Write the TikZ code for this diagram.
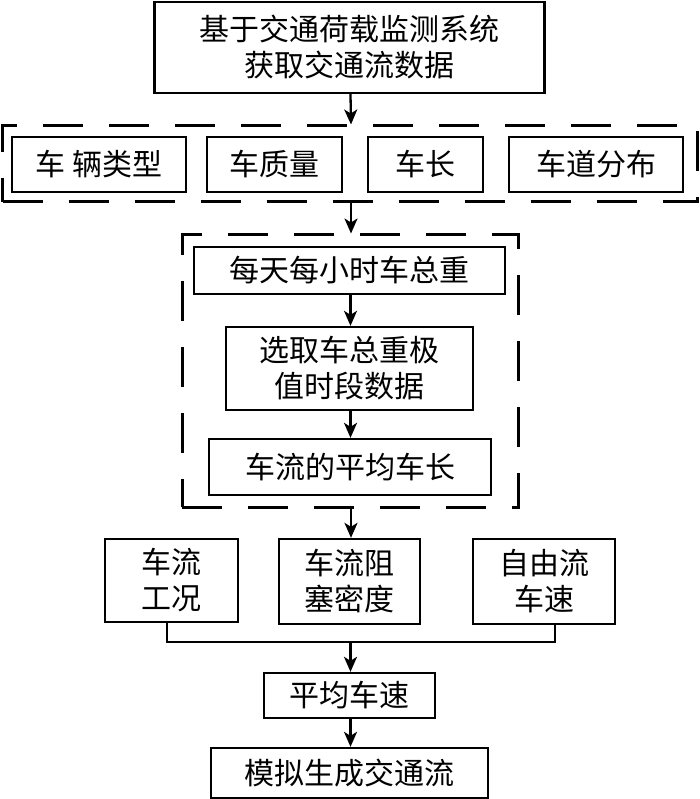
\documentclass[tikz,border=0pt]{standalone}
\usepackage{fontspec}
\newfontfamily\cjk{Noto Sans CJK SC}
\usetikzlibrary{arrows.meta}
\begin{document}
\begin{tikzpicture}[x=1pt,y=-1pt,
  box/.style={draw, line width=2.3pt, rectangle, inner sep=0pt, align=center,
    font=\cjk\fontsize{30pt}{36pt}\selectfont, text=black},
  dbox/.style={draw, line width=3pt, rectangle, inner sep=0pt, dash pattern=on 40pt off 26pt},
  arr/.style={line width=2.3pt, -{Stealth[length=15pt,width=13pt,inset=4pt]}},
  ln/.style={line width=2.3pt}]
\useasboundingbox (0,0) rectangle (700,799);
\fill[white] (0,0) rectangle (700,799);
% top
\node[box, minimum width=390pt, minimum height=91pt] (top) at (349.5,47.5) {基于交通荷载监测系统\\获取交通流数据};
% dashed group 1
\node[dbox, minimum width=695pt, minimum height=76pt] (g1) at (350,164) {};
\node[box, minimum width=174pt, minimum height=55pt] (a1) at (99,164.5) {车 辆类型};
\node[box, minimum width=135pt, minimum height=55pt] (a2) at (274.5,164.5) {车质量};
\node[box, minimum width=115pt, minimum height=55pt] (a3) at (425.5,164.5) {车长};
\node[box, minimum width=174pt, minimum height=55pt] (a4) at (596,164.5) {车道分布};
% dashed group 2
\node[dbox, minimum width=336pt, minimum height=272pt] (g2) at (350,371) {};
\node[box, minimum width=311pt, minimum height=47pt] (b1) at (349.5,270.5) {每天每小时车总重};
\node[box, minimum width=247pt, minimum height=83pt] (b2) at (349.5,368.5) {选取车总重极\\值时段数据};
\node[box, minimum width=282pt, minimum height=56pt] (b3) at (350,467) {车流的平均车长};
% row of three
\node[box, minimum width=133pt, minimum height=83pt] (c1) at (171.5,580.5) {车流\\工况};
\node[box, minimum width=141pt, minimum height=85pt] (c2) at (349.5,581.5) {车流阻\\塞密度};
\node[box, minimum width=142pt, minimum height=85pt] (c3) at (544,581.5) {自由流\\车速};
\node[box, minimum width=171pt, minimum height=45pt] (d) at (349.5,695.5) {平均车速};
\node[box, minimum width=277pt, minimum height=50pt] (e) at (349.5,773) {模拟生成交通流};
\coordinate (j) at (350.5,642);
% connectors
\draw[arr] ([xshift=1pt]top.south) -- ([xshift=1pt]g1.north);
\draw[arr] ([xshift=1pt]g1.south) -- ([xshift=1pt]g2.north);
\draw[arr] ([xshift=1pt]b1.south) -- ([xshift=1pt]b2.north);
\draw[arr] ([xshift=1pt]b2.south) -- ([xshift=0.5pt]b3.north);
\draw[arr] ([xshift=1pt]g2.south) -- ([xshift=1.5pt]c2.north);
\draw[ln] ([xshift=-4.5pt]c1.south) |- (j) -| ([xshift=11pt]c3.south);
\draw[arr] (j) -- ([xshift=1pt]d.north);
\draw[arr] ([xshift=1pt]d.south) -- ([xshift=1pt]e.north);
\end{tikzpicture}
\end{document}
